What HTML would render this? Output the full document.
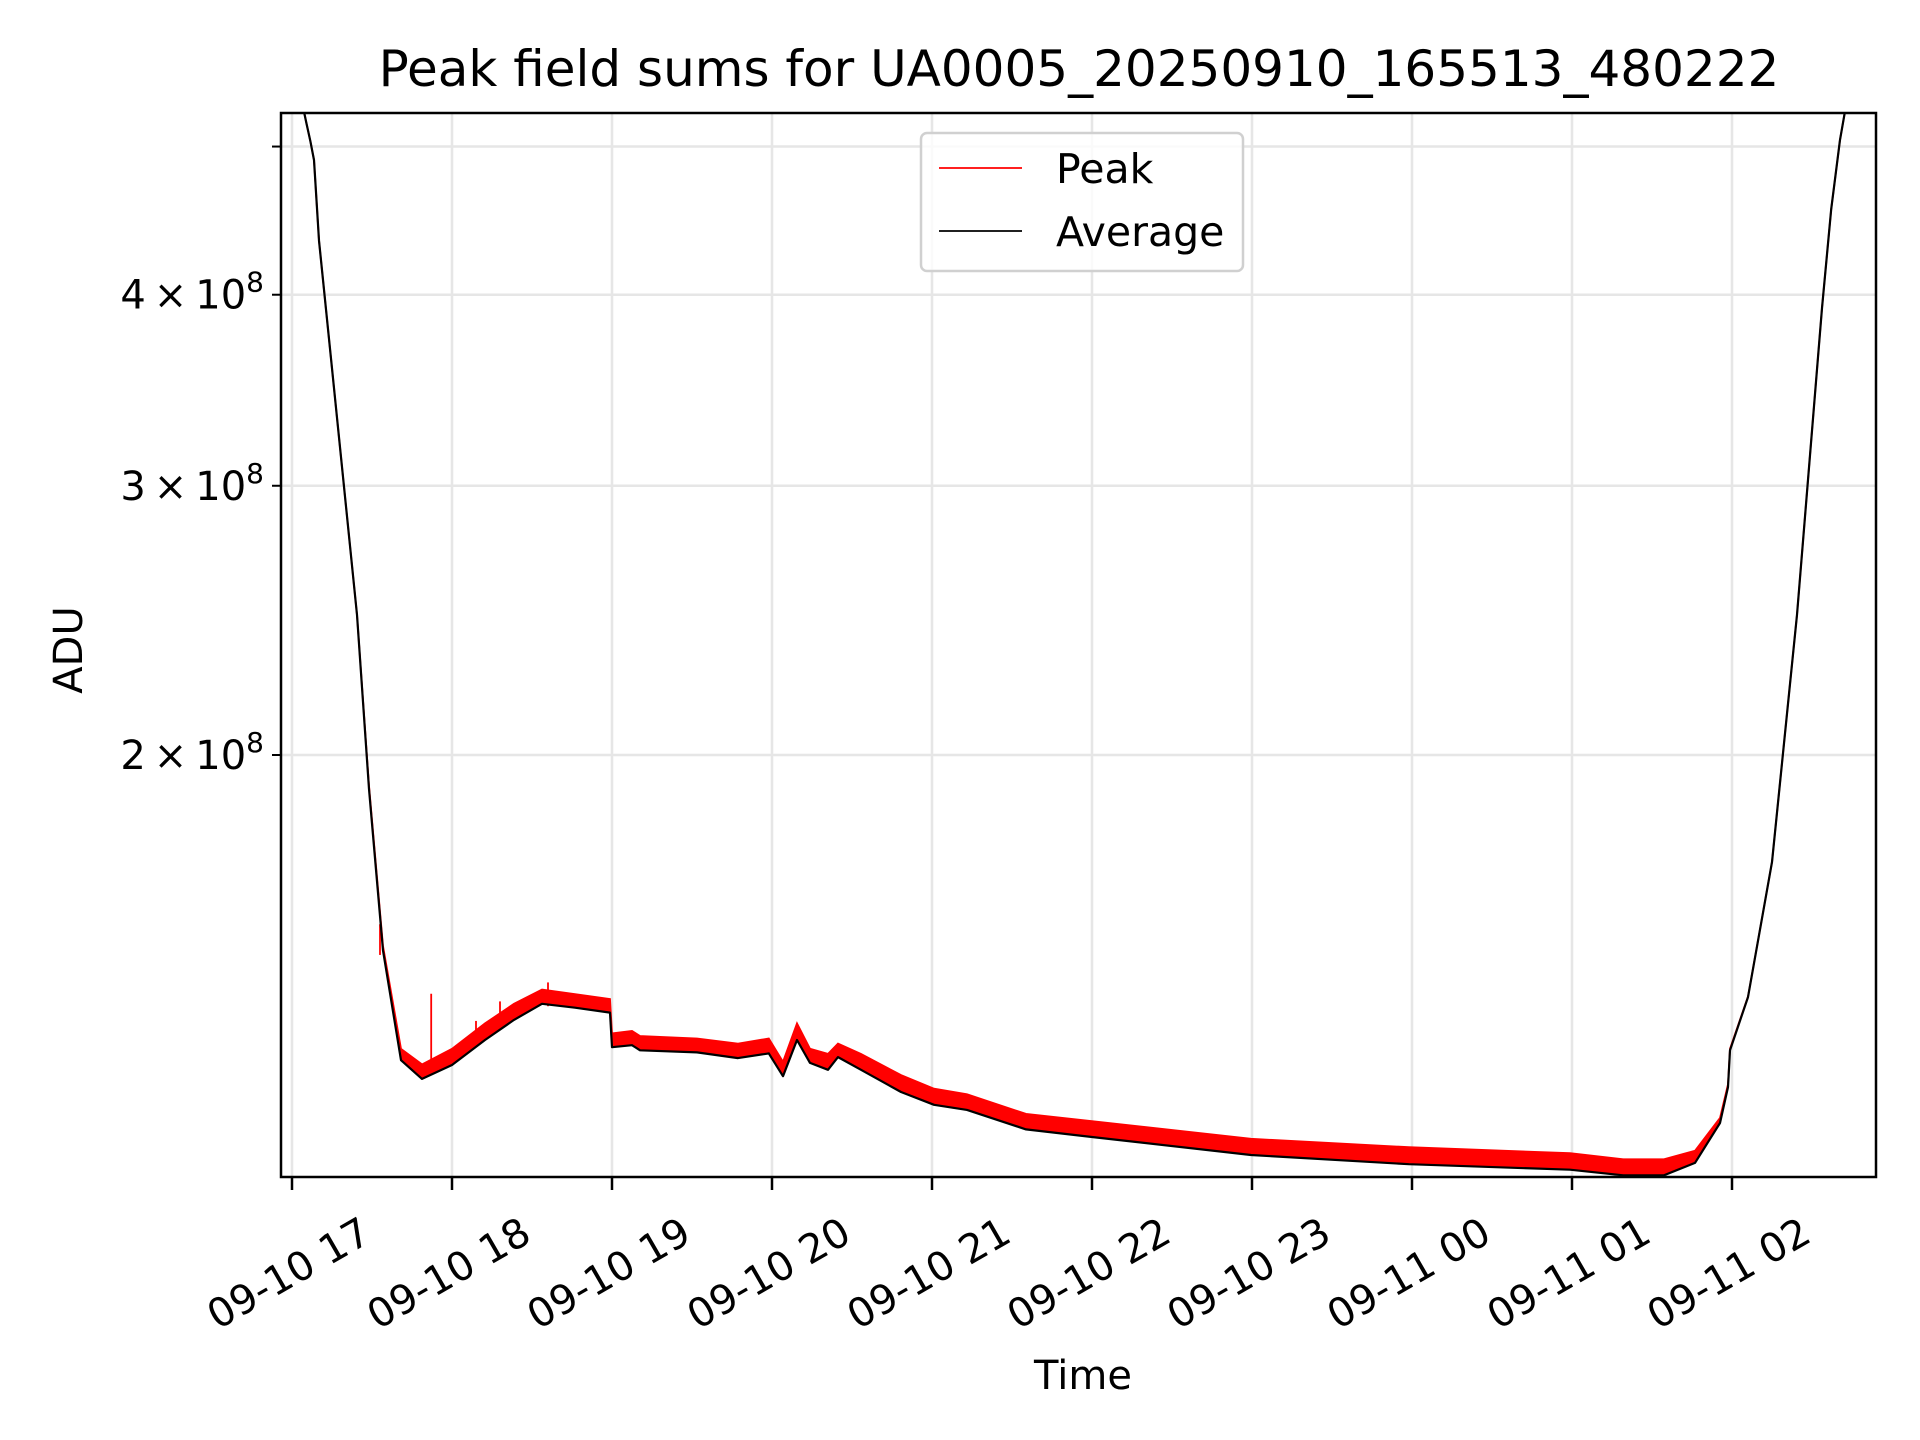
<!DOCTYPE html>
<html><head><meta charset="utf-8"><style>
html,body{margin:0;padding:0;background:#fff;}
svg{display:block;font-family:"DejaVu Sans","Liberation Sans",sans-serif;}
</style></head><body>
<svg id="chart" width="1920" height="1440" viewBox="0 0 1920 1440" xmlns="http://www.w3.org/2000/svg">
<rect width="1920" height="1440" fill="#fff"/>
<text x="1079" y="86" font-size="50" text-anchor="middle">Peak field sums for UA0005_20250910_165513_480222</text>
<text x="1083" y="1389" font-size="40" text-anchor="middle">Time</text>
<text x="0" y="0" font-size="40" text-anchor="middle" transform="translate(82,650) rotate(-90)">ADU</text>
<g id="grid"></g>
<defs><clipPath id="clip"><rect x="281" y="113" width="1594" height="1063"/></clipPath></defs>
<g id="series" clip-path="url(#clip)"></g>
<rect x="281" y="113" width="1595" height="1064" fill="none" stroke="#000" stroke-width="2.5"/>
<g id="axes"></g>
<g>
<rect x="921" y="133" width="322" height="138" rx="6" fill="#fff" fill-opacity="0.8" stroke="#d0d0d0" stroke-width="2.5"/>
<line x1="939" y1="168" x2="1022" y2="168" stroke="#ff0000" stroke-width="1.8"/>
<text x="1056" y="183" font-size="41">Peak</text>
<line x1="939" y1="231" x2="1022" y2="231" stroke="#000" stroke-width="1.8"/>
<text x="1056" y="246" font-size="41">Average</text>
</g>
</svg>
<script>
// hours since 09-10 17:00
const hours = [-0.08,0.0,0.03,0.06,0.09,0.115,0.1375,0.169,0.25,0.406,0.481,0.569,0.681,0.8125,1.0,1.206,1.3875,1.5625,1.769,1.9875,2.0,2.125,2.175,2.531,2.7875,2.98,3.069,3.156,3.2375,3.35,3.4125,3.556,3.806,4.0125,4.219,4.5875,5.006,5.994,6.98,7.9875,8.32,8.575,8.769,8.925,8.975,8.9875,9.1,9.25,9.406,9.5625,9.62,9.675,9.71,9.75,9.9];
const averageValues = [5.8,5.6,5.5,5.36,5.18,5.04,4.90,4.34,3.58,2.47,1.90,1.49,1.263,1.228,1.254,1.302,1.342,1.375,1.367,1.357,1.288,1.292,1.282,1.278,1.267,1.276,1.233,1.302,1.258,1.245,1.269,1.245,1.204,1.181,1.172,1.138,1.125,1.095,1.080,1.071,1.062,1.062,1.082,1.149,1.213,1.282,1.389,1.702,2.47,3.92,4.55,5.05,5.3,5.5,5.8];
const peakValues = [5.8,5.6,5.5,5.36,5.18,5.04,4.90,4.34,3.58,2.47,1.91,1.50,1.285,1.255,1.285,1.335,1.375,1.405,1.395,1.385,1.315,1.32,1.31,1.305,1.295,1.305,1.26,1.335,1.285,1.275,1.295,1.275,1.235,1.21,1.2,1.165,1.152,1.122,1.108,1.098,1.088,1.088,1.102,1.158,1.218,1.285,1.39,1.702,2.47,3.92,4.55,5.05,5.3,5.5,5.8];
const spikeHours = [0.55,0.87,1.15,1.3,1.6];
const spikeValues = [1.55,1.396,1.34,1.38,1.42];
const spikeBaseValues = [1.48,1.24,1.29,1.33,1.37];
const xTickHours = [0,1,2,3,4,5,6,7,8,9];
const xTickLabels = ["09-10 17","09-10 18","09-10 19","09-10 20","09-10 21","09-10 22","09-10 23","09-11 00","09-11 01","09-11 02"];
const yTickValues = [2,3,4];
const yTickLabels = ["2","3","4"];
const yMinorValues = [5];

const NS="http://www.w3.org/2000/svg";
const X=h=>292+h*160;
const Y=v=>755-1529*Math.log10(v/2);
function mk(tag,attrs,parent){const e=document.createElementNS(NS,tag);for(const k in attrs)e.setAttribute(k,attrs[k]);parent.appendChild(e);return e;}
const grid=document.getElementById('grid'),axes=document.getElementById('axes'),series=document.getElementById('series');

xTickHours.forEach((h,i)=>{
  const g=mk('line',{x1:X(h),x2:X(h),y1:113,y2:1177,stroke:'#e6e6e6','stroke-width':2.5},grid);
  
  
  const t=mk('line',{x1:X(h),x2:X(h),y1:1177,y2:1190,stroke:'#000','stroke-width':2.5},axes);
  
  
  const l=mk('text',{x:0,y:0,'font-size':40,'text-anchor':'middle','dominant-baseline':'central',transform:`translate(${X(h)-3},1274) rotate(-30)`},axes);
  l.textContent=xTickLabels[i];
  
  
});
yTickValues.concat(yMinorValues).forEach((v)=>{
  const g=mk('line',{x1:281,x2:1876,y1:Y(v),y2:Y(v),stroke:'#e6e6e6','stroke-width':2.5},grid);
  
  
  const t=mk('line',{x1:272,x2:281,y1:Y(v),y2:Y(v),stroke:'#000','stroke-width':2},axes);
  
  
});
yTickValues.forEach((v,i)=>{
  const l=mk('text',{x:264,y:Y(v)+14,'font-size':40,'text-anchor':'end'},axes);
  
  
  l.innerHTML=yTickLabels[i]+'\u2009\u00d7\u200910<tspan font-size="28" dy="-17">8</tspan>';
});

const avgPts=hours.map((h,i)=>X(h).toFixed(1)+','+Y(averageValues[i]).toFixed(1));
const peakPts=hours.map((h,i)=>X(h).toFixed(1)+','+Y(peakValues[i]).toFixed(1));
const band=mk('polygon',{points:peakPts.concat(avgPts.slice().reverse()).join(' '),fill:'#ff0000',stroke:'none'},series);


const pl=mk('polyline',{points:peakPts.join(' '),fill:'none',stroke:'#ff0000','stroke-width':1.8},series);


spikeHours.forEach((h,i)=>{
  const s=mk('line',{x1:X(h),x2:X(h),y1:Y(spikeValues[i]),y2:Y(spikeBaseValues[i]),stroke:'#ff0000','stroke-width':1.8},series);
  
  
});
const al=mk('polyline',{points:avgPts.join(' '),fill:'none',stroke:'#000','stroke-width':2.2,'stroke-linejoin':'round'},series);


</script>
</body></html>
